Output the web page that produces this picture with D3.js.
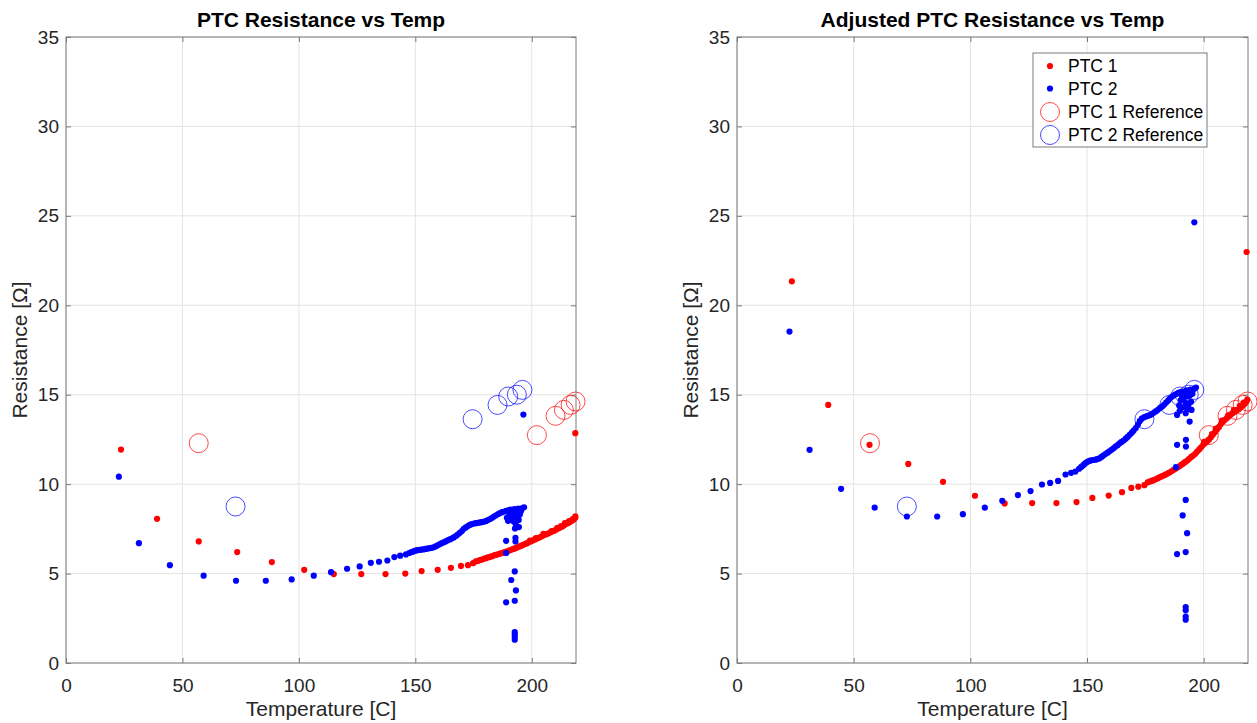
<!DOCTYPE html>
<html>
<head>
<meta charset="utf-8">
<script src="https://cdn.jsdelivr.net/npm/d3@7"></script>
<style>
  body { margin: 0; background: #fff; }
  text { font-family: "Liberation Sans", Arial, sans-serif; }
</style>
</head>
<body>
<svg id="chart" width="1257" height="723"></svg>
<script>
// ---- data: [temperature C, resistance ohm] ----

// left panel, raw readings
var ptc1Raw = [
  [23.6,11.93],[39.1,8.06],[57.0,6.80],[73.5,6.20],[88.4,5.64],[102.3,5.21],[115.0,4.97],[126.8,4.97],
  [137.2,4.97],[145.7,5.00],[152.7,5.14],[159.6,5.21],[165.3,5.32],[169.6,5.43],[172.6,5.47],[174.8,5.58],
  [176.0,5.68],[177.0,5.71],[177.8,5.76],[178.6,5.78],[179.5,5.83],[180.3,5.86],[181.2,5.90],[182.0,5.93],
  [183.0,5.97],[183.8,6.02],[184.6,6.04],[185.5,6.08],[186.3,6.11],[187.2,6.15],[188.0,6.19],[188.8,6.22],
  [189.7,6.26],[190.5,6.30],[191.4,6.34],[192.2,6.38],[193.0,6.42],[193.9,6.47],[194.7,6.52],[195.5,6.56],
  [196.4,6.61],[197.2,6.66],[198.0,6.70],[198.9,6.76],[199.7,6.81],[200.5,6.86],[201.4,6.91],[202.2,6.96],
  [203.0,7.00],[203.9,7.06],[204.7,7.11],[205.6,7.17],[206.4,7.21],[207.2,7.25],[208.1,7.31],[208.9,7.36],
  [209.7,7.40],[210.6,7.47],[211.4,7.53],[212.2,7.57],[213.1,7.63],[213.9,7.70],[214.7,7.78],[215.5,7.82],
  [216.4,7.88],[217.2,7.95],[218.0,8.02],[218.7,8.12],[218.7,8.20],
  [199.2,6.84],[201.8,6.98],[205.0,7.22],[208.5,7.38],[211.0,7.55],[212.6,7.66],[214.2,7.82],[216.0,7.94],
  [217.6,8.05],
  [218.7,12.85]
];

var ptc2Raw = [
  [22.7,10.42],[31.3,6.70],[44.6,5.47],[59.1,4.88],[73.0,4.60],[85.8,4.60],[96.9,4.67],[106.4,4.88],
  [113.8,5.08],[120.7,5.27],[126.1,5.40],[130.9,5.60],[134.4,5.66],[138.0,5.73],[141.0,5.92],[143.5,6.00],
  [146.0,6.07],
  [147.4,6.15],[148.3,6.20],[149.2,6.24],[150.0,6.28],[150.9,6.31],[151.8,6.33],[152.6,6.34],[153.5,6.35],
  [154.4,6.38],[155.2,6.40],[156.1,6.42],[157.0,6.44],[157.8,6.47],[158.7,6.52],[159.6,6.58],[160.4,6.64],
  [161.3,6.70],[162.2,6.75],[163.0,6.80],[163.9,6.86],[164.8,6.91],[165.6,6.96],[166.5,7.02],[167.4,7.10],
  [168.2,7.18],[169.1,7.28],[170.0,7.38],[170.8,7.50],[171.7,7.58],[172.6,7.66],[173.4,7.72],[174.3,7.77],
  [175.2,7.80],[176.0,7.82],[176.9,7.84],[177.8,7.86],[178.6,7.88],[179.5,7.90],[180.4,7.94],[181.2,7.99],
  [182.1,8.05],[183.0,8.12],[183.8,8.19],[184.7,8.26],[185.6,8.33],[186.4,8.38],[187.3,8.43],[188.2,8.47],
  [189.0,8.50],[189.9,8.54],[190.8,8.57],[191.6,8.55],[192.5,8.60],[193.4,8.58],[194.2,8.63],[195.1,8.61],
  [196.0,8.66],[196.7,8.70],
  [189.3,8.12],[189.8,7.95],[190.4,8.30],[191.0,8.18],[191.4,7.98],[192.0,8.38],[192.4,7.90],[193.0,8.25],
  [193.4,8.08],[193.9,8.45],[194.4,8.00],[194.9,8.30],[195.4,8.50],[193.2,7.72],[192.8,7.52],[194.5,7.60],
  [190.6,8.42],[192.2,8.20],
  [193.0,7.00],[193.0,6.80],[189.0,6.83],[189.0,6.15],[192.7,5.12],[191.2,4.64],[193.2,4.06],[189.0,3.39],
  [192.7,3.48],[192.7,1.73],[192.7,1.60],[192.7,1.45],[192.7,1.30],
  [196.4,13.89]
];

// right panel, adjusted readings
var ptc1Adj = [
  [23.5,21.34],[39.1,14.43],[56.8,12.20],[73.4,11.13],[88.3,10.13],[102.0,9.35],[114.7,8.92],[126.5,8.94],
  [136.9,8.94],[145.5,9.00],[152.3,9.23],[159.3,9.36],[165.0,9.55],[169.0,9.79],[172.0,9.86],[174.6,9.94],
  [176.0,10.10],[176.8,10.14],[177.7,10.18],[178.5,10.22],[179.4,10.27],[180.2,10.32],[181.1,10.38],[181.9,10.43],
  [182.8,10.48],[183.6,10.53],[184.5,10.59],[185.3,10.65],[186.2,10.72],[187.0,10.79],[187.9,10.86],[188.7,10.93],
  [189.6,11.00],[190.4,11.08],[191.3,11.16],[192.1,11.24],[193.0,11.32],[193.8,11.42],[194.7,11.52],[195.5,11.60],
  [196.4,11.70],[197.2,11.82],[198.1,11.94],[198.9,12.06],[199.8,12.20],[200.6,12.30],[201.5,12.40],[202.3,12.50],
  [203.2,12.64],[204.0,12.78],[204.9,12.92],[205.7,13.06],[206.6,13.20],[207.4,13.36],[208.3,13.50],[209.1,13.60],
  [210.0,13.70],[210.8,13.80],[211.7,13.90],[212.5,13.98],[213.4,14.06],[214.2,14.12],[215.1,14.20],[215.9,14.30],
  [216.8,14.40],[217.6,14.50],[218.3,14.60],[218.7,14.72],
  [200.2,12.36],[203.6,12.80],[205.2,13.10],[207.8,13.55],[210.5,13.85],[213.0,14.15],[215.5,14.38],[217.2,14.56],
  [218.4,22.98]
];

var ptc2Adj = [
  [22.5,18.53],[31.1,11.92],[44.6,9.74],[59.0,8.69],[72.8,8.19],[85.8,8.19],[96.8,8.32],[106.2,8.69],
  [113.7,9.07],[120.4,9.39],[125.8,9.61],[130.7,9.98],[134.2,10.07],[137.6,10.18],[140.8,10.54],[143.2,10.63],
  [145.0,10.70],
  [146.6,10.86],[147.5,10.96],[148.4,11.06],[149.2,11.16],[150.1,11.24],[151.0,11.30],[151.8,11.33],[152.7,11.35],
  [153.6,11.37],[154.4,11.40],[155.3,11.44],[156.2,11.52],[157.0,11.60],[157.9,11.68],[158.8,11.76],[159.6,11.84],
  [160.5,11.92],[161.4,12.00],[162.2,12.10],[163.1,12.18],[164.0,12.28],[164.8,12.36],[165.7,12.44],[166.6,12.54],
  [167.4,12.64],[168.3,12.76],[169.2,12.88],[170.0,13.00],[170.9,13.14],[171.8,13.32],[172.6,13.52],[173.5,13.66],
  [174.4,13.74],[175.2,13.78],[176.1,13.82],[177.0,13.86],[177.8,13.92],[178.7,14.00],[179.6,14.08],[180.4,14.16],
  [181.3,14.26],[182.2,14.34],[183.0,14.44],[183.9,14.56],[184.8,14.68],[185.6,14.80],[186.5,14.90],[187.4,14.98],
  [188.2,15.04],[189.1,15.10],[190.0,15.14],[190.8,15.18],[191.7,15.16],[192.6,15.24],[193.4,15.22],[194.3,15.28],
  [195.2,15.26],[196.0,15.34],[196.7,15.40],
  [188.6,13.87],[192.3,13.97],[194.0,13.50],[188.6,12.20],[192.4,12.48],[192.4,12.10],[189.5,14.40],[190.2,14.70],
  [191.0,14.30],[191.6,14.85],[192.2,14.55],[192.8,14.90],[193.4,14.40],[194.0,14.95],[194.6,14.60],[195.2,15.05],
  [190.6,14.95],[193.0,14.20],[194.8,14.15],[189.8,14.10],
  [192.3,9.12],[191.0,8.25],[192.9,7.26],[188.6,6.09],[192.3,6.20],[192.3,3.13],[192.3,2.95],[192.3,2.60],
  [192.3,2.42],[188.1,10.95],
  [196.0,24.64]
];

// reference points, same in both panels
var ptc1Ref = [[57.0,12.29],[202.2,12.74],[210.2,13.82],[213.8,14.15],[216.7,14.43],[218.8,14.62]];
var ptc2Ref = [[72.8,8.75],[174.6,13.63],[185.3,14.43],[189.9,14.90],[193.6,15.00],[196.0,15.27]];

var xTicks = [0, 50, 100, 150, 200];
var yTicks = [0, 5, 10, 15, 20, 25, 30, 35];
var xLimit = [0, 219];
var yLimit = [0, 35];
var legendLabels = ["PTC 1", "PTC 2", "PTC 1 Reference", "PTC 2 Reference"];

// ---- layout ----
var plotTop = 37, plotBottom = 663;
var axisColor = "#7a7a7a", textColor = "#262626", gridColor = "#e4e4e4";
var red = "#ff0000", blue = "#0000ff";
var dotR = 3.1, refR = 9.5;

var svg = d3.select("#chart");

function drawPanel(left, right, title, redData, blueData, withLegend) {
  var x = d3.scaleLinear().domain(xLimit).range([left, right]);
  var y = d3.scaleLinear().domain(yLimit).range([plotBottom, plotTop]);
  var g = svg.append("g");

  // grid lines
  g.selectAll(".gx").data(xTicks).enter().append("line")
    .attr("x1", d => x(d)).attr("x2", d => x(d))
    .attr("y1", plotTop).attr("y2", plotBottom)
    .attr("stroke", gridColor);
  g.selectAll(".gy").data(yTicks).enter().append("line")
    .attr("x1", left).attr("x2", right)
    .attr("y1", d => y(d)).attr("y2", d => y(d))
    .attr("stroke", gridColor);

  // axes, ticks pointing inward on all four sides
  var bottomAxis = g.append("g").attr("transform", "translate(0," + plotBottom + ")")
    .call(d3.axisBottom(x).tickValues(xTicks).tickSizeInner(-5).tickSizeOuter(0).tickPadding(15.5));
  var leftAxis = g.append("g").attr("transform", "translate(" + left + ",0)")
    .call(d3.axisLeft(y).tickValues(yTicks).tickSizeInner(-5).tickSizeOuter(0).tickPadding(7));
  var topAxis = g.append("g").attr("transform", "translate(0," + plotTop + ")")
    .call(d3.axisTop(x).tickValues(xTicks).tickSizeInner(-5).tickSizeOuter(0).tickFormat(""));
  var rightAxis = g.append("g").attr("transform", "translate(" + right + ",0)")
    .call(d3.axisRight(y).tickValues(yTicks).tickSizeInner(-5).tickSizeOuter(0).tickFormat(""));

  [bottomAxis, leftAxis, topAxis, rightAxis].forEach(function(a) {
    a.select(".domain").remove();
    a.selectAll(".tick line").attr("stroke", axisColor);
    a.selectAll(".tick text")
      .attr("fill", textColor)
      .style("font-size", "19px")
      .style("font-family", '"Liberation Sans", Arial, sans-serif');
  });

  // box
  g.append("rect")
    .attr("x", left).attr("y", plotTop)
    .attr("width", right - left).attr("height", plotBottom - plotTop)
    .attr("fill", "none").attr("stroke", axisColor);

  // title and axis labels
  g.append("text")
    .attr("x", (left + right) / 2).attr("y", 27)
    .attr("text-anchor", "middle")
    .attr("fill", "#000")
    .style("font-size", "21px").style("font-weight", "bold")
    .text(title);
  g.append("text")
    .attr("x", (left + right) / 2).attr("y", 716)
    .attr("text-anchor", "middle")
    .attr("fill", textColor)
    .style("font-size", "21px")
    .text("Temperature [C]");
  g.append("text")
    .attr("transform", "translate(" + (left - 39) + "," + ((plotTop + plotBottom) / 2) + ") rotate(-90)")
    .attr("text-anchor", "middle")
    .attr("fill", textColor)
    .style("font-size", "21px")
    .text("Resistance [\u03A9]");

  // measured dots
  g.append("g").selectAll("circle").data(redData).enter().append("circle")
    .attr("cx", d => x(d[0])).attr("cy", d => y(d[1]))
    .attr("r", dotR).attr("fill", red);
  g.append("g").selectAll("circle").data(blueData).enter().append("circle")
    .attr("cx", d => x(d[0])).attr("cy", d => y(d[1]))
    .attr("r", dotR).attr("fill", blue);

  // reference circles
  g.append("g").selectAll("circle").data(ptc1Ref).enter().append("circle")
    .attr("cx", d => x(d[0])).attr("cy", d => y(d[1]))
    .attr("r", refR).attr("fill", "none")
    .attr("stroke", red).attr("stroke-opacity", 0.7);
  g.append("g").selectAll("circle").data(ptc2Ref).enter().append("circle")
    .attr("cx", d => x(d[0])).attr("cy", d => y(d[1]))
    .attr("r", refR).attr("fill", "none")
    .attr("stroke", blue).attr("stroke-opacity", 0.7);

  if (withLegend) drawLegend(g);
}

function drawLegend(g) {
  var lx = 1033, ly = 53, lw = 174, lh = 94;
  var lg = g.append("g");
  lg.append("rect")
    .attr("x", lx).attr("y", ly).attr("width", lw).attr("height", lh)
    .attr("fill", "#fff").attr("stroke", axisColor);
  var rows = [13, 35.5, 59, 82];
  legendLabels.forEach(function(label, i) {
    var cy = ly + rows[i];
    var col = (i % 2 == 0) ? red : blue;
    if (i < 2) {
      lg.append("circle").attr("cx", lx + 17).attr("cy", cy).attr("r", dotR).attr("fill", col);
    } else {
      lg.append("circle").attr("cx", lx + 17).attr("cy", cy).attr("r", refR)
        .attr("fill", "none").attr("stroke", col).attr("stroke-opacity", 0.7);
    }
    lg.append("text")
      .attr("x", lx + 35).attr("y", cy).attr("dy", "0.36em")
      .attr("fill", "#000")
      .style("font-size", "17.5px")
      .text(label);
  });
}

drawPanel(66, 576, "PTC Resistance vs Temp", ptc1Raw, ptc2Raw, false);
drawPanel(737, 1248, "Adjusted PTC Resistance vs Temp", ptc1Adj, ptc2Adj, true);
</script>
</body>
</html>
